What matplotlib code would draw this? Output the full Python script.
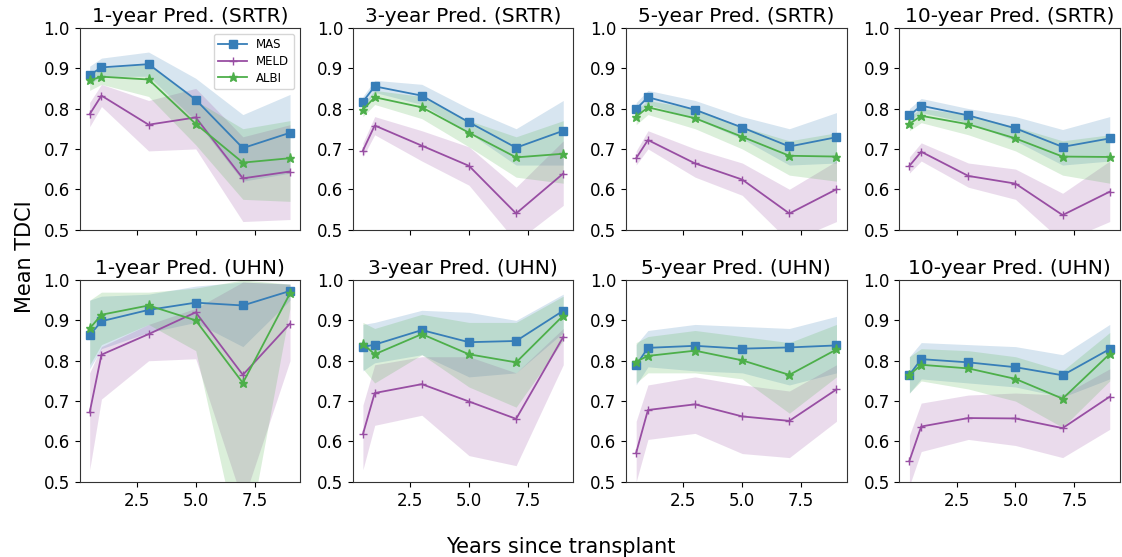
import matplotlib
matplotlib.use("Agg")
import matplotlib.pyplot as plt
import numpy as np

years = [0.5, 1, 3, 5, 7, 9]
titles = ["1-year Pred. (SRTR)", "3-year Pred. (SRTR)", "5-year Pred. (SRTR)", "10-year Pred. (SRTR)",
          "1-year Pred. (UHN)", "3-year Pred. (UHN)", "5-year Pred. (UHN)", "10-year Pred. (UHN)"]
models = ["MAS", "MELD", "ALBI"]

# mean values per panel
mas_mean = [
    [0.883, 0.902, 0.910, 0.822, 0.702, 0.740],
    [0.817, 0.855, 0.832, 0.766, 0.703, 0.745],
    [0.799, 0.828, 0.797, 0.753, 0.706, 0.729],
    [0.783, 0.807, 0.783, 0.751, 0.705, 0.726],
    [0.863, 0.898, 0.926, 0.944, 0.937, 0.973],
    [0.834, 0.840, 0.876, 0.846, 0.849, 0.924],
    [0.789, 0.832, 0.837, 0.830, 0.833, 0.838],
    [0.765, 0.804, 0.796, 0.784, 0.764, 0.829],
]
mas_lo = [
    [0.860, 0.880, 0.880, 0.770, 0.620, 0.640],
    [0.800, 0.840, 0.810, 0.740, 0.660, 0.660],
    [0.785, 0.810, 0.775, 0.725, 0.660, 0.665],
    [0.770, 0.790, 0.765, 0.720, 0.660, 0.670],
    [0.780, 0.830, 0.870, 0.895, 0.835, 0.950],
    [0.775, 0.795, 0.815, 0.760, 0.770, 0.870],
    [0.740, 0.785, 0.775, 0.770, 0.740, 0.770],
    [0.720, 0.755, 0.745, 0.735, 0.710, 0.755],
]
mas_hi = [
    [0.905, 0.925, 0.940, 0.875, 0.785, 0.835],
    [0.830, 0.870, 0.860, 0.800, 0.750, 0.820],
    [0.815, 0.845, 0.820, 0.780, 0.750, 0.790],
    [0.800, 0.825, 0.800, 0.780, 0.748, 0.780],
    [0.950, 0.960, 0.965, 0.985, 0.995, 0.990],
    [0.890, 0.895, 0.925, 0.920, 0.900, 0.965],
    [0.840, 0.875, 0.890, 0.885, 0.880, 0.910],
    [0.810, 0.845, 0.840, 0.835, 0.815, 0.890],
]
meld_mean = [
    [0.786, 0.832, 0.760, 0.778, 0.627, 0.644],
    [0.696, 0.758, 0.708, 0.658, 0.540, 0.639],
    [0.677, 0.722, 0.664, 0.624, 0.540, 0.600],
    [0.658, 0.693, 0.633, 0.614, 0.536, 0.594],
    [0.672, 0.815, 0.866, 0.920, 0.765, 0.892],
    [0.618, 0.720, 0.742, 0.699, 0.656, 0.859],
    [0.572, 0.678, 0.692, 0.662, 0.651, 0.729],
    [0.552, 0.637, 0.658, 0.657, 0.633, 0.711],
]
meld_lo = [
    [0.755, 0.805, 0.695, 0.700, 0.520, 0.525],
    [0.680, 0.735, 0.670, 0.610, 0.470, 0.560],
    [0.660, 0.700, 0.630, 0.585, 0.470, 0.520],
    [0.640, 0.670, 0.605, 0.575, 0.470, 0.520],
    [0.530, 0.705, 0.800, 0.805, 0.450, 0.800],
    [0.530, 0.640, 0.665, 0.565, 0.540, 0.790],
    [0.500, 0.605, 0.620, 0.570, 0.560, 0.650],
    [0.490, 0.575, 0.605, 0.590, 0.560, 0.630],
]
meld_hi = [
    [0.815, 0.860, 0.820, 0.850, 0.730, 0.760],
    [0.715, 0.780, 0.745, 0.705, 0.605, 0.720],
    [0.695, 0.745, 0.700, 0.665, 0.600, 0.670],
    [0.680, 0.715, 0.665, 0.650, 0.590, 0.670],
    [0.770, 0.835, 0.890, 0.930, 0.995, 0.990],
    [0.690, 0.790, 0.810, 0.810, 0.770, 0.880],
    [0.650, 0.740, 0.760, 0.740, 0.725, 0.790],
    [0.615, 0.695, 0.715, 0.720, 0.715, 0.780],
]
albi_mean = [
    [0.870, 0.879, 0.872, 0.762, 0.666, 0.677],
    [0.797, 0.828, 0.803, 0.740, 0.679, 0.688],
    [0.780, 0.803, 0.776, 0.730, 0.683, 0.681],
    [0.762, 0.782, 0.761, 0.726, 0.681, 0.680],
    [0.880, 0.914, 0.937, 0.900, 0.745, 0.967],
    [0.842, 0.816, 0.866, 0.816, 0.796, 0.912],
    [0.798, 0.812, 0.825, 0.801, 0.765, 0.828],
    [0.765, 0.790, 0.781, 0.755, 0.706, 0.817],
]
albi_lo = [
    [0.845, 0.860, 0.830, 0.710, 0.575, 0.570],
    [0.780, 0.810, 0.775, 0.705, 0.630, 0.615],
    [0.760, 0.785, 0.750, 0.700, 0.635, 0.620],
    [0.745, 0.765, 0.735, 0.695, 0.635, 0.615],
    [0.790, 0.840, 0.890, 0.825, 0.300, 0.930],
    [0.780, 0.745, 0.815, 0.735, 0.685, 0.850],
    [0.745, 0.770, 0.770, 0.755, 0.670, 0.760],
    [0.720, 0.750, 0.730, 0.700, 0.635, 0.750],
]
albi_hi = [
    [0.890, 0.900, 0.910, 0.820, 0.750, 0.770],
    [0.810, 0.845, 0.830, 0.770, 0.730, 0.770],
    [0.795, 0.820, 0.800, 0.755, 0.720, 0.740],
    [0.780, 0.800, 0.785, 0.755, 0.720, 0.735],
    [0.950, 0.970, 0.970, 0.980, 1.000, 0.990],
    [0.895, 0.880, 0.915, 0.895, 0.895, 0.960],
    [0.845, 0.860, 0.875, 0.860, 0.845, 0.890],
    [0.810, 0.830, 0.825, 0.810, 0.775, 0.870],
]

colors = {"MAS": "#377eb8", "MELD": "#984ea3", "ALBI": "#4daf4a"}
markers = {"MAS": "s", "MELD": "+", "ALBI": "*"}
msizes = {"MAS": 6, "MELD": 5.5, "ALBI": 6.5}
series = {
    "MAS": (mas_mean, mas_lo, mas_hi),
    "MELD": (meld_mean, meld_lo, meld_hi),
    "ALBI": (albi_mean, albi_lo, albi_hi),
}

fig, axes = plt.subplots(2, 4, figsize=(11.22, 5.57), dpi=100, sharex=True)
fig.subplots_adjust(left=0.071, right=0.998, top=0.95, bottom=0.135, wspace=0.24, hspace=0.25)

for i, ax in enumerate(axes.flat):
    for m in models:
        mean, lo, hi = series[m]
        ax.plot(years, mean[i], color=colors[m], marker=markers[m], markersize=msizes[m], lw=1.3, label=m)
        ax.fill_between(years, lo[i], hi[i], color=colors[m], alpha=0.2, lw=0)
    ax.set_ylim(0.5, 1.0)
    ax.set_yticks([0.5, 0.6, 0.7, 0.8, 0.9, 1.0])
    ax.set_xticks([2.5, 5.0, 7.5])
    ax.set_title(titles[i], fontsize=14.5, pad=4)
    ax.tick_params(labelsize=12)
    for s in ax.spines.values():
        s.set_color("#333333")

axes[0, 0].legend(loc="upper right", fontsize=8.5, handlelength=2.4, borderpad=0.4, labelspacing=0.3)
fig.text(0.5, 0.018, "Years since transplant", ha="center", va="center", fontsize=15)
fig.text(0.022, 0.54, "Mean TDCI", ha="center", va="center", rotation=90, fontsize=15)

fig.savefig("out.png", dpi=100)
